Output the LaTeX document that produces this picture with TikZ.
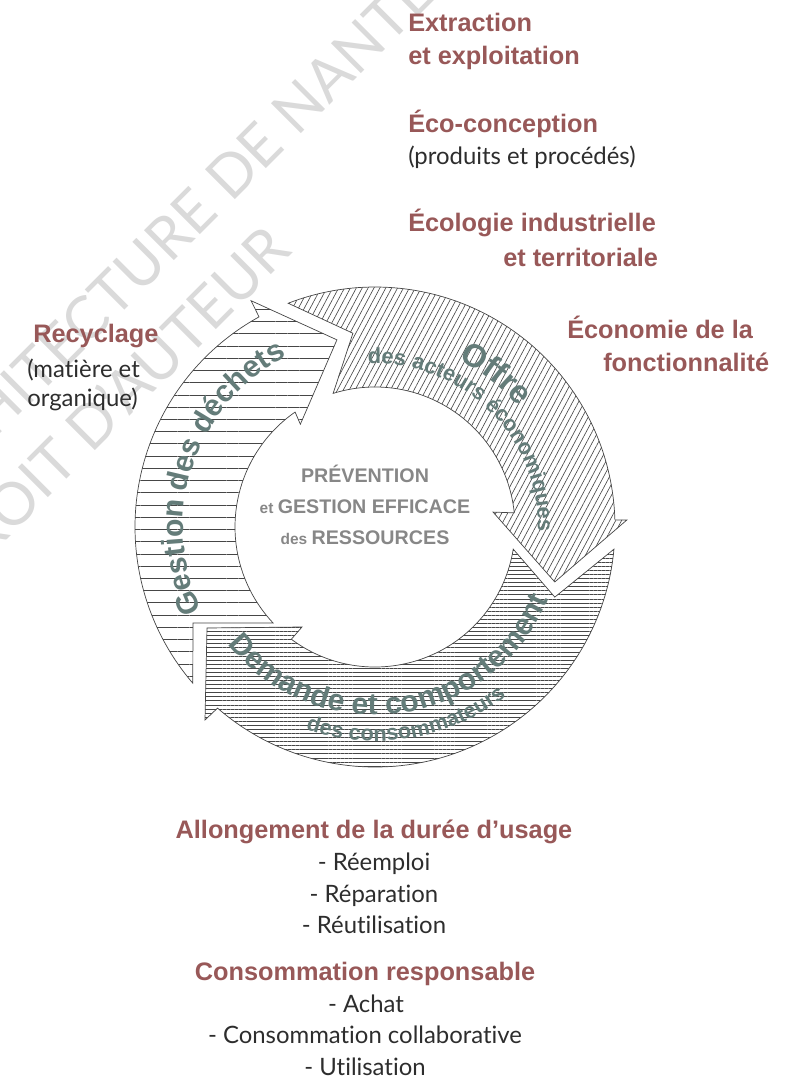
\documentclass[tikz,border=0pt]{standalone}
\usepackage{fontspec}
\setmainfont{Lato}[Ligatures=NoCommon]
\setsansfont{Liberation Sans}
\usetikzlibrary{patterns.meta,decorations.text}

\definecolor{maroon}{RGB}{152,88,88}
\definecolor{slate}{RGB}{100,124,121}
\definecolor{midgray}{RGB}{135,135,135}
\definecolor{ink}{RGB}{45,45,45}
\definecolor{hatch}{RGB}{70,70,70}
\definecolor{wmark}{RGB}{218,218,218}

\newcommand{\headfont}{\sffamily\bfseries\fontsize{18}{22}\selectfont}
\newcommand{\bodyfont}{\rmfamily\fontsize{17}{20}\selectfont}
\newcommand{\offrefont}{\sffamily\bfseries\fontsize{23}{26}\selectfont}
\newcommand{\bigarrowfont}{\sffamily\bfseries\fontsize{21.5}{24}\selectfont}
\newcommand{\smallarrowfont}{\sffamily\bfseries\fontsize{15.5}{18}\selectfont}
\newcommand{\capsfont}{\sffamily\bfseries\fontsize{14}{16}\selectfont}
\newcommand{\minifont}{\sffamily\bfseries\fontsize{11}{13}\selectfont}

\tikzset{
  heading/.style={font=\headfont, text=maroon, inner sep=0pt},
  bodytext/.style={font=\bodyfont, text=ink, inner sep=0pt},
  centretext/.style={text=midgray, inner sep=0pt, anchor=base},
  watermark/.style={font=\rmfamily\fontsize{42}{42}\selectfont, text=wmark, inner sep=0pt, rotate=45},
  band/.style={draw=hatch, line width=0.5pt, preaction={fill=white}, pattern color=hatch},
  curvetext/.style={decoration={text along path, text align=center, text color=slate, text={#1}}, decorate}
}

\begin{document}
\begin{tikzpicture}[x=0.025cm, y=0.025cm]
    \useasboundingbox (-375, 527) rectangle (419, -553);

    % watermark
    \node[watermark] (wm1) at (-203, 294) {ARCHITECTURE DE NANTES};
    \node[watermark] (wm2) at (-267, 120) {DROIT D'AUTEUR};

    % Offre des acteurs economiques
    \path[band, pattern={Lines[angle=62, distance=3.7pt, line width=0.45pt]}]
        (111.2:240) arc[start angle=111.2, end angle=1.7, radius=240]
        -- (1.6:252) -- (-17:188) -- (7.2:119) -- (5.8:140)
        arc[start angle=5.8, end angle=107.4, radius=140]
        -- (96.5:195) -- cycle;

    % Demande et comportement des consommateurs
    \path[band, pattern={Lines[angle=0, distance=2.9pt, line width=0.4pt]}]
        (-5.3:240) arc[start angle=-5.3, end angle=-131, radius=240]
        -- (-170, -193) -- (-168, -101) -- (-73, -100) -- (-126.7:140)
        arc[start angle=-126.7, end angle=-9.1, radius=140]
        -- (-21.3:193) -- cycle;

    % Gestion des dechets
    \path[band, pattern={Lines[angle=0, distance=8.7pt, line width=0.55pt]}]
        (220.6:240) arc[start angle=220.6, end angle=118.9, radius=240]
        -- (118.7:258) -- (101.5:191) -- (126:127) -- (124.8:140)
        arc[start angle=124.8, end angle=223.3, radius=140]
        -- (-182, -96) -- cycle;

    % texts on the arrows
    \path[curvetext={|\offrefont|Offre}] (78:187) arc[start angle=78, end angle=25.4, radius=187];
    \path[curvetext={|\smallarrowfont|des acteurs économiques}] (115:163) arc[start angle=115, end angle=-24, radius=163];
    \path[curvetext={|\bigarrowfont|Gestion des déchets}] (221.5:192) arc[start angle=221.5, end angle=101.5, radius=192];
    \path[curvetext={|\bigarrowfont|Demande et comportement}] (-162:188) arc[start angle=-162, end angle=-2, radius=188];
    \path[curvetext={|\smallarrowfont|des consommateurs}] (-140:214) arc[start angle=-140, end angle=-21, radius=214];

    % centre
    \node[centretext] (prev) at (-10, 45) {\capsfont PRÉVENTION};
    \node[centretext] (gest) at (-10, 14) {\minifont et \capsfont GESTION EFFICACE};
    \node[centretext] (ress) at (-10, -17) {\minifont des \capsfont RESSOURCES};

    % top right
    \node[heading, anchor=base west] (extr) at (33, 495) {Extraction};
    \node[heading, anchor=base west] (expl) at (33, 462) {et exploitation};
    \node[heading, anchor=base west] (ecoc) at (33, 394) {Éco-conception};
    \node[bodytext, anchor=base west] (prod) at (33, 362) {(produits et procédés)};
    \node[heading, anchor=base west] (ecol) at (33, 295) {Écologie industrielle};
    \node[heading, anchor=base west] (terr) at (128, 260) {et territoriale};
    \node[heading, anchor=base west] (econ) at (192, 189) {Économie de la};
    \node[heading, anchor=base west] (fonc) at (228, 155) {fonctionnalité};

    % left
    \node[heading, anchor=base west] (recy) at (-342, 185) {Recyclage};
    \node[bodytext, anchor=base west] (mati) at (-348, 150) {(matière et};
    \node[bodytext, anchor=base west] (orga) at (-348, 121) {organique)};

    % bottom
    \node[heading, anchor=base] (allo) at (-1, -311) {Allongement de la durée d’usage};
    \node[bodytext, anchor=base] (reem) at (-1, -343) {- Réemploi};
    \node[bodytext, anchor=base] (repa) at (-1, -375) {- Réparation};
    \node[bodytext, anchor=base] (reut) at (-1, -406) {- Réutilisation};
    \node[heading, anchor=base] (cons) at (-10, -453) {Consommation responsable};
    \node[bodytext, anchor=base] (acha) at (-9, -485) {- Achat};
    \node[bodytext, anchor=base] (coll) at (-10, -516) {- Consommation collaborative};
    \node[bodytext, anchor=base] (util) at (-10, -548) {- Utilisation};
\end{tikzpicture}
\end{document}
